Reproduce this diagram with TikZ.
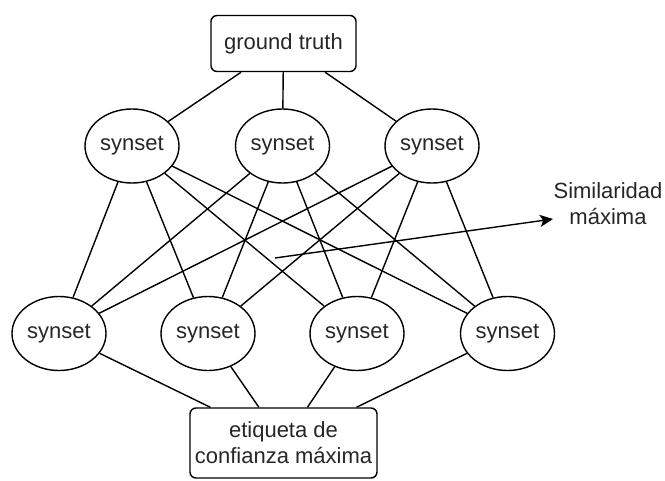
\documentclass[tikz,border=0pt]{standalone}
\usepackage{fontspec}
\setmainfont{Liberation Sans}
\usetikzlibrary{shapes.geometric,arrows.meta}
\definecolor{txt}{HTML}{262626}
\tikzset{
  lbl/.style={text=txt, font=\fontsize{22}{26}\selectfont, align=center},
  box/.style={lbl, draw, rounded corners=6pt, inner sep=0pt},
  syn/.style={lbl, draw, ellipse, inner sep=0pt, minimum width=94pt, minimum height=74pt},
  link/.style={draw, line width=1.4pt},
}
\begin{document}
\begin{tikzpicture}[x=1pt, y=-1pt, line width=1.4pt]
\useasboundingbox (0,0) rectangle (665,480);

% top and bottom label boxes
\node[box, minimum width=145pt, minimum height=56pt] (gt) at (283.5,43.5) {ground truth};
\node[box, minimum width=187pt, minimum height=70pt] (eq) at (283.5,443) {etiqueta de\\confianza máxima};

% middle row of synsets
\node[syn] (m1) at (132,146) {synset};
\node[syn] (m2) at (282.5,146) {synset};
\node[syn] (m3) at (432,146) {synset};

% lower row of synsets
\node[syn] (b1) at (59,333.5) {synset};
\node[syn] (b2) at (208,333.5) {synset};
\node[syn] (b3) at (357,333.5) {synset};
\node[syn] (b4) at (507.5,333.5) {synset};

% ground truth to the middle row
\foreach \m in {m1,m2,m3} \draw[link] (gt) -- (\m);

% every middle synset to every lower synset
\foreach \m in {m1,m2,m3}
  \foreach \b in {b1,b2,b3,b4}
    \draw[link] (\m) -- (\b);

% lower row to the final label
\foreach \b in {b1,b2,b3,b4} \draw[link] (\b) -- (eq);

% maximum similarity arrow
\coordinate (s0) at (275,258);
\node[lbl] (sim) at (608,204) {Similaridad\\máxima};
\coordinate (s1) at (553,219);
\draw[link, -{Stealth[length=13pt,width=12pt,inset=3pt]}] (s0) -- (s1);
\end{tikzpicture}
\end{document}
